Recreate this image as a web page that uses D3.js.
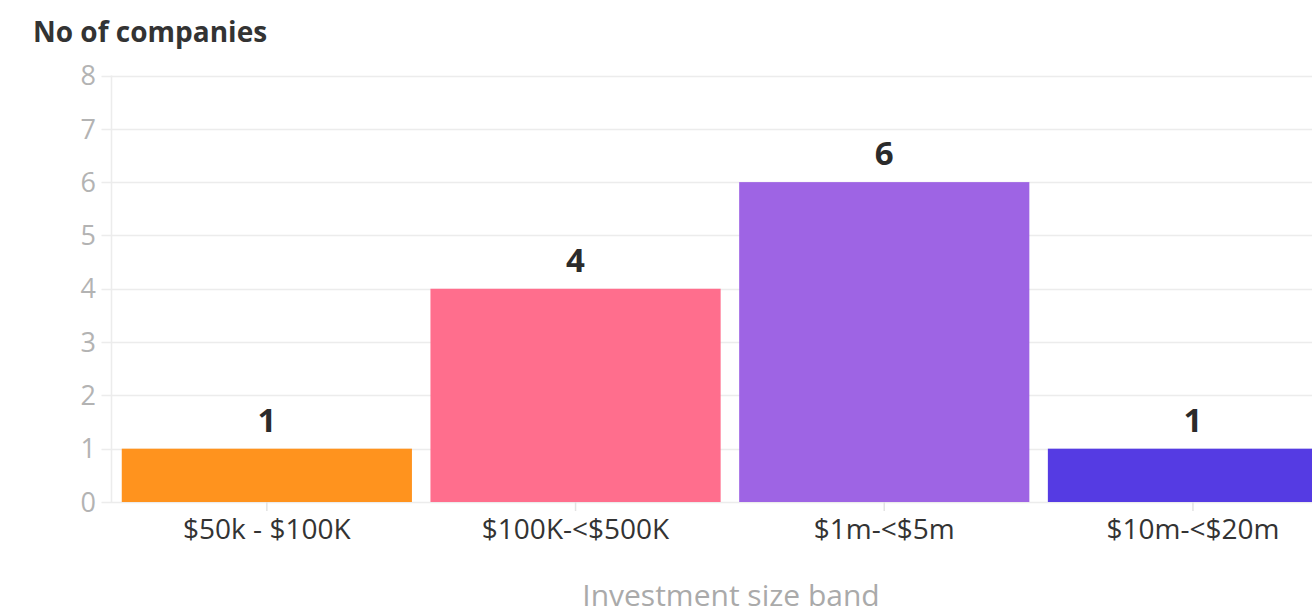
<!DOCTYPE html>
<html>
<head>
<meta charset="utf-8">
<script src="https://cdn.jsdelivr.net/npm/d3@7"></script>
<style>
  html, body { margin: 0; padding: 0; background: #fff; }
  svg { display: block; font-family: "Open Sans", Lato, sans-serif; }
</style>
</head>
<body>
<svg id="chart" width="1312" height="608"></svg>
<script>
// Number of companies per investment size band
const categories = ["$50k - $100K", "$100K-<$500K", "$1m-<$5m", "$10m-<$20m"];
const companies = [1, 4, 6, 1];
const barColors = ["#ff931e", "#ff6e8d", "#9e64e4", "#553be3"];
const yTicks = [0, 1, 2, 3, 4, 5, 6, 7, 8];

const svg = d3.select("#chart");

const plotLeft = 111.5;
const plotTop = 75.5;
const plotBottom = 502;
const step = 308.7;

const x = d3.scaleBand()
  .domain(categories)
  .range([plotLeft + 1, plotLeft + 1 + step * categories.length])
  .paddingInner(0.06)
  .paddingOuter(0.03);

const y = d3.scaleLinear()
  .domain([0, 8])
  .range([plotBottom, plotTop]);

// horizontal grid lines
svg.append("g")
  .selectAll("line")
  .data(yTicks)
  .join("line")
  .attr("x1", plotLeft - 10)
  .attr("x2", 1312)
  .attr("y1", d => Math.round(y(d)) + 0.5)
  .attr("y2", d => Math.round(y(d)) + 0.5)
  .attr("stroke", "#ececec")
  .attr("stroke-width", 1.5);

// y axis line
svg.append("line")
  .attr("x1", plotLeft).attr("x2", plotLeft)
  .attr("y1", plotTop).attr("y2", plotBottom)
  .attr("stroke", "#ececec")
  .attr("stroke-width", 1.5);

// y tick labels
svg.append("g")
  .selectAll("text")
  .data(yTicks)
  .join("text")
  .attr("x", 96)
  .attr("y", d => y(d))
  .attr("dy", "0.36em")
  .attr("text-anchor", "end")
  .attr("fill", "#b3b3b3")
  .attr("font-size", 27)
  .text(d => d);

// bars
svg.append("g")
  .selectAll("rect")
  .data(categories)
  .join("rect")
  .attr("x", d => x(d))
  .attr("y", (d, i) => y(companies[i]))
  .attr("width", x.bandwidth())
  .attr("height", (d, i) => y(0) - y(companies[i]))
  .attr("fill", (d, i) => barColors[i]);

// value labels above bars
svg.append("g")
  .selectAll("text")
  .data(categories)
  .join("text")
  .attr("x", d => x(d) + x.bandwidth() / 2)
  .attr("y", (d, i) => y(companies[i]) - 17)
  .attr("text-anchor", "middle")
  .attr("fill", "#2b2b2b")
  .attr("font-weight", 700)
  .attr("font-size", 33)
  .text((d, i) => companies[i]);

// x tick marks
svg.append("g")
  .selectAll("line")
  .data(categories)
  .join("line")
  .attr("x1", d => x(d) + x.bandwidth() / 2)
  .attr("x2", d => x(d) + x.bandwidth() / 2)
  .attr("y1", plotBottom)
  .attr("y2", plotBottom + 9)
  .attr("stroke", "#e3e3e3")
  .attr("stroke-width", 1.5);

// category labels
svg.append("g")
  .selectAll("text")
  .data(categories)
  .join("text")
  .attr("x", d => x(d) + x.bandwidth() / 2)
  .attr("y", 539)
  .attr("text-anchor", "middle")
  .attr("fill", "#333")
  .attr("font-size", 28)
  .text(d => d);

// axis titles
svg.append("text")
  .attr("x", 33)
  .attr("y", 42)
  .attr("fill", "#333")
  .attr("font-weight", 700)
  .attr("font-size", 28)
  .text("No of companies");

svg.append("text")
  .attr("x", 731)
  .attr("y", 606)
  .attr("text-anchor", "middle")
  .attr("fill", "#aaa")
  .attr("font-size", 30)
  .text("Investment size band");
</script>
</body>
</html>
